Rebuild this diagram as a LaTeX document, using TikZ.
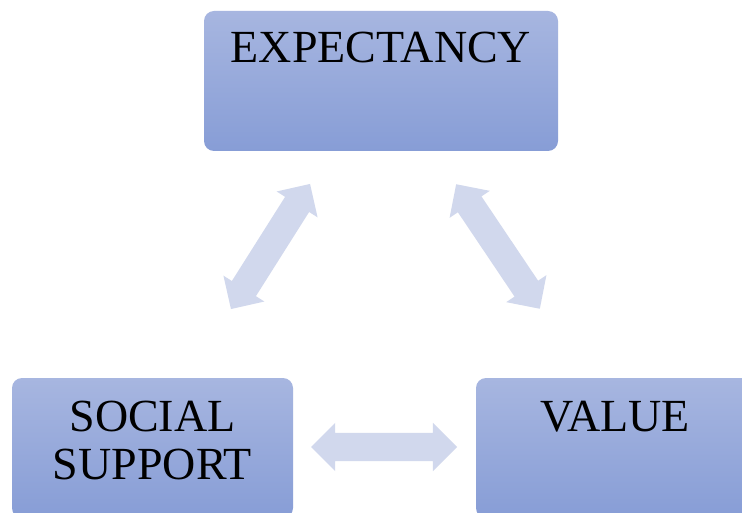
\documentclass[tikz,border=0pt]{standalone}
\usepackage{fontspec}
\setmainfont{Liberation Serif}
\usetikzlibrary{shapes.arrows}
\definecolor{boxtop}{HTML}{A7B6E0}
\definecolor{boxbot}{HTML}{879DD6}
\definecolor{arrowcol}{HTML}{D1D8ED}
\begin{document}
\begin{tikzpicture}[x=1pt,y=-1pt,
  box/.style={rounded corners=10pt, top color=boxtop, bottom color=boxbot, draw=none, inner sep=0pt},
  lbl/.style={font=\fontsize{46}{48}\selectfont, inner sep=0pt, align=center},
  link/.style={double arrow, fill=arrowcol, draw=none, inner xsep=0pt, inner ysep=14pt,
    minimum width=0pt, double arrow head extend=10pt, double arrow tip angle=90}
]
\clip (0,0) rectangle (742,513);
\fill[white] (0,0) rectangle (742,513);
% boxes
\node[box, minimum width=354pt, minimum height=140pt] (exp) at (381,81) {};
\node[box, minimum width=281pt, minimum height=140pt] (soc) at (152.5,448) {};
\node[box, minimum width=281pt, minimum height=140pt] (val) at (616.5,448) {};
% labels
\node[lbl, anchor=base] (expl) at (381,63) {EXPECTANCY};
\node[lbl] (socl) at (152.5,440) {SOCIAL\\SUPPORT};
\node[lbl, anchor=base] (vall) at (615,431) {VALUE};
% connectors
\node[link, minimum height=148pt, rotate=57.7] (a1) at (270.5,246.5) {};
\node[link, minimum height=150pt, rotate=-56.1] (a2) at (498,246.5) {};
\node[link, minimum height=146pt] (a3) at (384,447) {};
\end{tikzpicture}
\end{document}
